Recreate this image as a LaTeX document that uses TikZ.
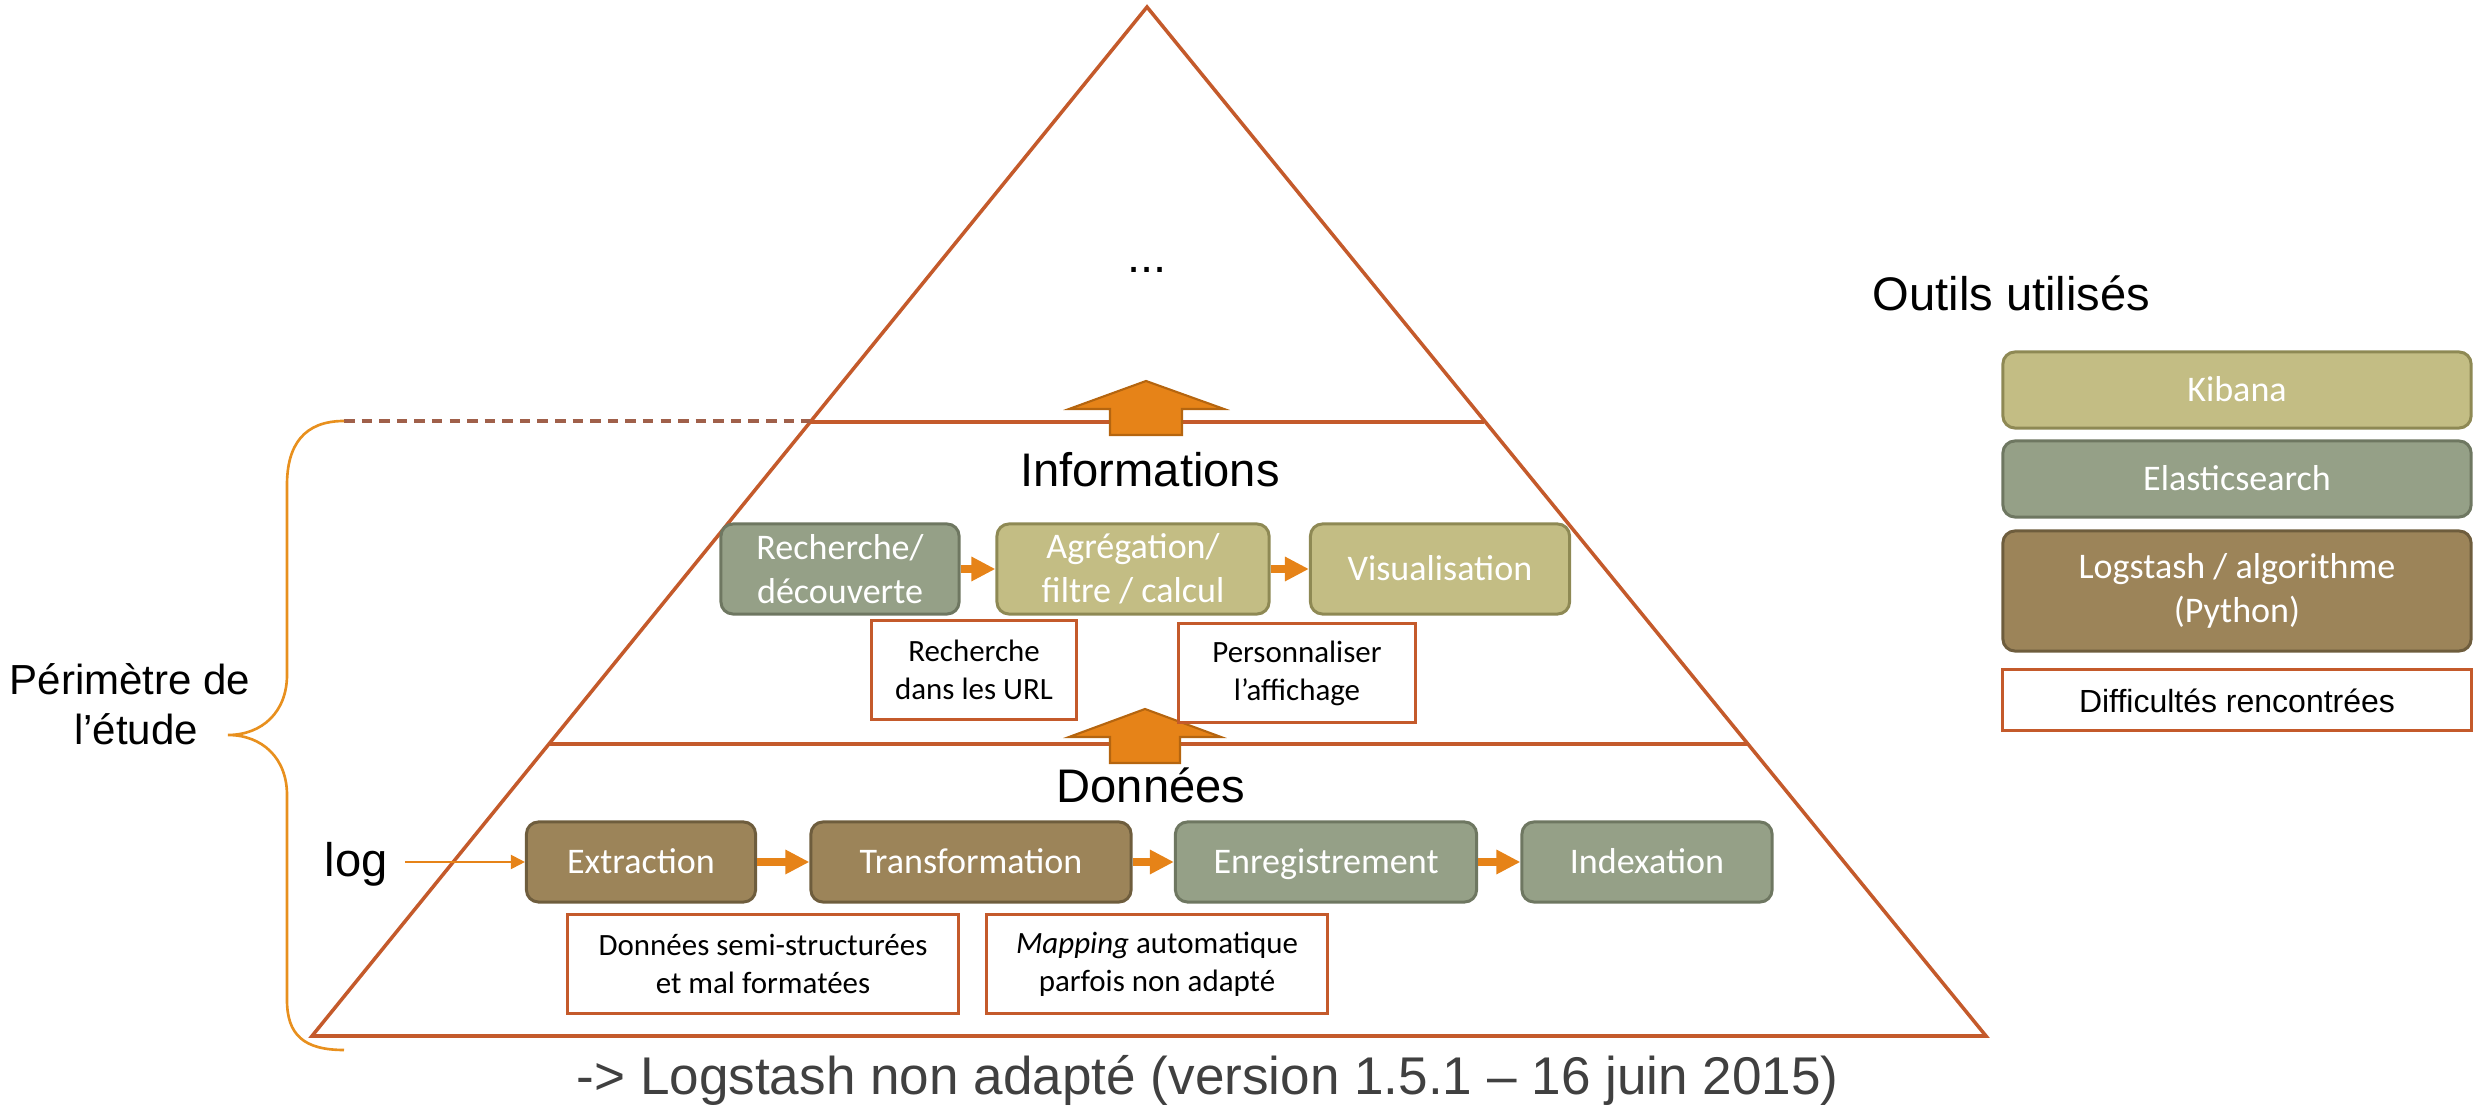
\documentclass[tikz,border=0pt]{standalone}
\usepackage{fontspec}
\setmainfont{Liberation Sans}
\newfontfamily\calib{Carlito}
\usetikzlibrary{arrows.meta}
\definecolor{tri}{HTML}{C45A2B}
\definecolor{kibfill}{HTML}{C3BD84}
\definecolor{kibdraw}{HTML}{8E8954}
\definecolor{elafill}{HTML}{95A087}
\definecolor{eladraw}{HTML}{6E7761}
\definecolor{logfill}{HTML}{9C8459}
\definecolor{logdraw}{HTML}{6E5D3D}
\definecolor{orng}{HTML}{E68318}
\definecolor{orngdark}{HTML}{B5650F}
\definecolor{bracec}{HTML}{E8901E}
\definecolor{dashc}{HTML}{A0604A}
\definecolor{greytext}{HTML}{404040}
\begin{document}
\begin{tikzpicture}[x=0.01cm,y=-0.01cm,
  box/.style={rounded corners=0.12cm, line width=0.85pt, inner sep=0pt, align=center, text=white, font=\calib\fontsize{10.25pt}{12.5pt}\selectfont},
  oneline/.style={text height=0.64em, text depth=0pt},
  kib/.style={box, fill=kibfill, draw=kibdraw},
  ela/.style={box, fill=elafill, draw=eladraw},
  lgs/.style={box, fill=logfill, draw=logdraw},
  diff/.style={draw=tri, line width=0.85pt, fill=white, inner sep=0pt, align=center, font=\calib\fontsize{8.8pt}{10.8pt}\selectfont},
  flow/.style={draw=orng, line width=0.08cm, -{Triangle[length=0.24cm,width=0.23cm]}},
  logflow/.style={draw=orng, line width=0.02cm, -{Triangle[length=0.14cm,width=0.14cm]}},
  title/.style={font=\fontsize{13.4pt}{16pt}\selectfont, inner sep=0pt, anchor=base},
  trline/.style={draw=tri, line width=1pt},
  blockarrow/.style={fill=orng, draw=orngdark, line width=0.6pt},
]
\useasboundingbox (0,0) rectangle (2481,1107);

% pyramid
\coordinate (apex) at (1147,7);
\coordinate (bl) at (312,1036);
\coordinate (br) at (1986,1036);
\draw[trline, line join=miter] (bl) -- (apex) -- (br) -- cycle;
\draw[trline] (810,422) -- (1484,422);
\draw[trline] (548,744) -- (1748,744);
\draw[dashc, line width=0.9pt, dash pattern=on 3pt off 2pt] (344,421) -- (810,421);

% brace
\draw[bracec, line width=0.75pt] (344,421) .. controls (304,421) and (287,445) .. (287,485) -- (287,675)
  .. controls (287,712) and (262,735) .. (228,735)
  .. controls (262,735) and (287,758) .. (287,795) -- (287,1000)
  .. controls (287,1035) and (304,1050) .. (344,1050);

% block arrows
\draw[blockarrow] (1110,435) -- (1110,409) -- (1069,409) -- (1146,381) -- (1224,409) -- (1182,409) -- (1182,435) -- cycle;
\draw[blockarrow] (1110,763) -- (1110,737) -- (1069,737) -- (1145,709) -- (1221,737) -- (1180,737) -- (1180,763) -- cycle;

% titles
\node[title] (dots) at (1147,273) {...};
\node[title] (info) at (1150,487) {Informations};
\node[title] (donn) at (1151,803) {Données};
\node[title, anchor=base west] (outils) at (1872,311) {Outils utilisés};
\node[title, anchor=base west] (log) at (324,877) {log};
\node[font=\fontsize{11.95pt}{14pt}\selectfont, inner sep=0pt, anchor=base] (per1) at (130,695) {Périmètre de};
\node[font=\fontsize{11.95pt}{14pt}\selectfont, inner sep=0pt, anchor=base] (per2) at (136,745) {l’étude};
\node[font=\fontsize{15.1pt}{18pt}\selectfont, text=greytext, inner sep=0pt, anchor=base west] (concl) at (576,1095) {-> Logstash non adapté (version 1.5.1 – 16 juin 2015)};

% information level
\node[ela, minimum width=2.38cm, minimum height=0.90cm] (rech) at (840,569) {Recherche/\\découverte};
\node[kib, minimum width=2.72cm, minimum height=0.90cm] (agr) at (1133,569) {Agrégation/\\filtre / calcul};
\node[kib, oneline, minimum width=2.59cm, minimum height=0.90cm] (visu) at (1440,569) {Visualisation};
\draw[flow] (rech.east) -- (agr.west);
\draw[flow] (agr.east) -- (visu.west);
\node[diff, minimum width=2.05cm, minimum height=0.98cm] (d1) at (974,670) {Recherche\\dans les URL};
\node[diff, minimum width=2.36cm, minimum height=0.98cm] (d2) at (1297,673) {Personnaliser\\l’affichage};

% data level
\node[lgs, oneline, minimum width=2.29cm, minimum height=0.80cm] (extr) at (641,862) {Extraction};
\node[lgs, oneline, minimum width=3.20cm, minimum height=0.80cm] (trans) at (971,862) {Transformation};
\node[ela, oneline, minimum width=3.01cm, minimum height=0.80cm] (enreg) at (1326,862) {Enregistrement};
\node[ela, oneline, minimum width=2.50cm, minimum height=0.80cm] (index) at (1647,862) {Indexation};
\draw[flow] (extr.east) -- (trans.west);
\draw[flow] (trans.east) -- (enreg.west);
\draw[flow] (enreg.east) -- (index.west);
\draw[logflow] ([xshift=0.17cm]log.east |- extr.west) -- (extr.west);
\node[diff, minimum width=3.91cm, minimum height=0.98cm] (d3) at (763,964) {Données semi-structurées\\et mal formatées};
\node[diff, minimum width=3.40cm, minimum height=0.98cm] (d4) at (1157,964) {\textit{Mapping} automatique\\parfois non adapté};

% legend
\node[kib, oneline, minimum width=4.68cm, minimum height=0.76cm] (lkib) at (2237,390) {Kibana};
\node[ela, oneline, minimum width=4.68cm, minimum height=0.76cm] (lela) at (2237,479) {Elasticsearch};
\node[lgs, minimum width=4.68cm, minimum height=1.20cm] (llgs) at (2237,591) {Logstash / algorithme\\(Python)};
\node[draw=tri, line width=0.85pt, minimum width=4.68cm, minimum height=0.60cm, inner sep=0pt, text height=0.72em, text depth=0pt, font=\fontsize{9.1pt}{11pt}\selectfont] (ldiff) at (2237,700) {Difficultés rencontrées};
\end{tikzpicture}
\end{document}
